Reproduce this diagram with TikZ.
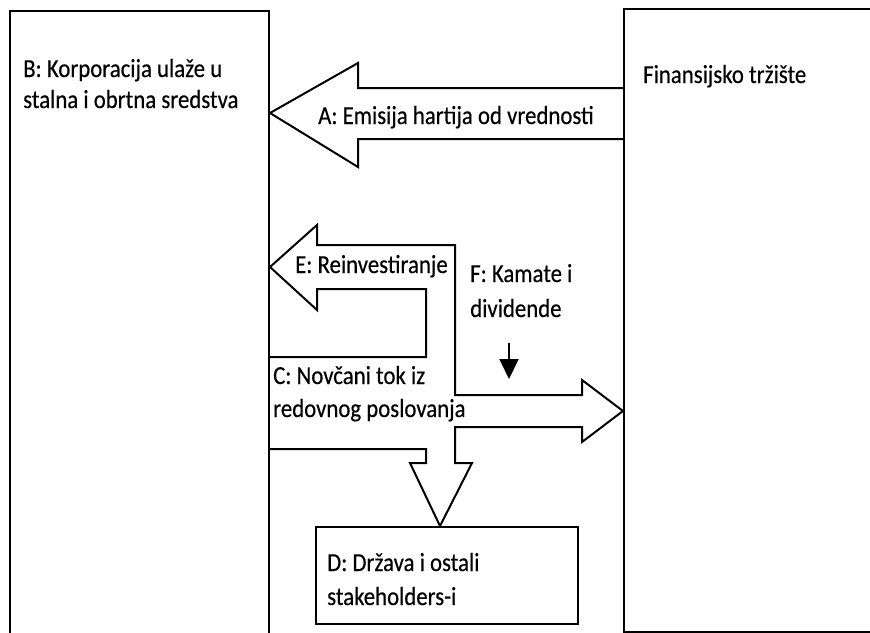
\documentclass[tikz,border=0pt]{standalone}
\usepackage{fontspec}
\setmainfont{Carlito}
\newfontfamily\lblfont{Carlito}[FakeBold=0.4]
\usetikzlibrary{arrows.meta}
% slightly tall lettering
\newcommand\talltext[1]{\scalebox{1}[1.14]{#1}}
\begin{document}
\begin{tikzpicture}[x=1pt,y=-1pt,
  frame/.style={draw=black,line width=2pt,inner sep=0pt,anchor=north west},
  blockarrow/.style={draw=black,line width=2pt,line join=miter},
  lbl/.style={anchor=base west,inner sep=0pt,font=\lblfont\fontsize{22.8}{27}\selectfont,text=black},
]
\useasboundingbox (0,0) rectangle (870,632);
\clip (0,0) rectangle (870,632);

% the three parties
\node[frame,minimum width=259pt,minimum height=640pt] (corp) at (9,10) {};
\node[frame,minimum width=260pt,minimum height=623pt] (market) at (623,8) {};
\node[frame,minimum width=262pt,minimum height=97pt] (state) at (315,526) {};

% A: issuing securities, market -> corporation
\draw[blockarrow] (market.west |- 0,88) -- (358,88) -- (358,63) -- (corp.east |- 0,113)
  -- (358,167) -- (358,139) -- (market.west |- 0,139);

% C: operating cash flow, split into E (back), D (down) and F (to market)
\draw[blockarrow] (corp.east |- 0,357) -- (426,357) -- (426,289) -- (317,289) -- (317,310)
  -- (corp.east |- 0,267) -- (317,225) -- (317,245) -- (455,245) -- (455,395)
  -- (582,395) -- (582,380) -- (market.west |- 0,411) -- (582,442) -- (582,427)
  -- (455,427) -- (455,463) -- (472,463) -- (state.north -| 440,0) -- (410,463)
  -- (426,463) -- (426,449) -- (corp.east |- 0,449);

% small pointer towards the F branch
\coordinate (ptrA) at (509,343);
\coordinate (ptrB) at (509,379);
\draw[line width=2pt,-{Triangle[length=20pt,width=19pt]}] (ptrA) -- (ptrB);

% labels
\node[lbl] (b1) at (23,77) {\talltext{B: Korporacija ulaže u}};
\node[lbl] (b2) at (23,108) {\talltext{stalna i obrtna sredstva}};
\node[lbl] (fm) at (643,83) {\talltext{Finansijsko tržište}};
\node[lbl] (la) at (318,124) {\talltext{A: Emisija hartija od vrednosti}};
\node[lbl] (le) at (295,273) {\talltext{E: Reinvestiranje}};
\node[lbl] (f1) at (470,282) {\talltext{F: Kamate i}};
\node[lbl] (f2) at (470,317) {\talltext{dividende}};
\node[lbl] (c1) at (273,384) {\talltext{C: Novčani tok iz}};
\node[lbl] (c2) at (273,417) {\talltext{redovnog poslovanja}};
\node[lbl] (d1) at (327,571) {\talltext{D: Država i ostali}};
\node[lbl] (d2) at (327,605) {\talltext{stakeholders-i}};
\end{tikzpicture}
\end{document}
